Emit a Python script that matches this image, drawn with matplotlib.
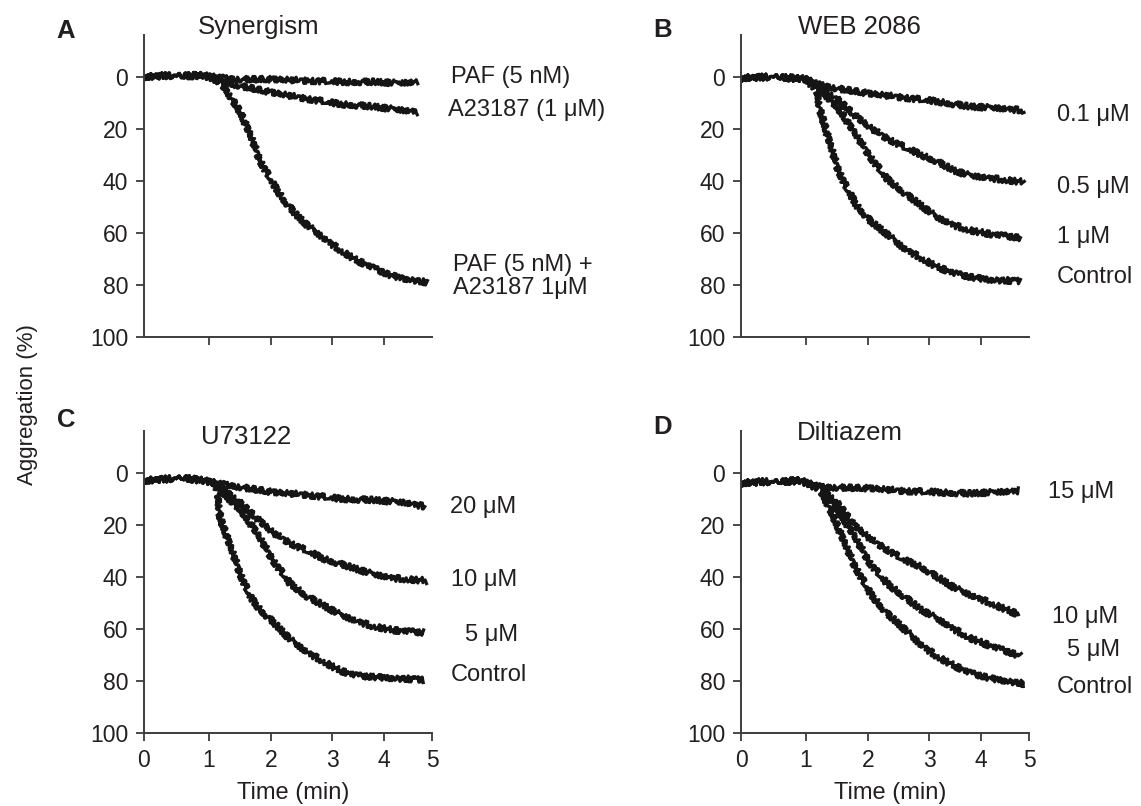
import numpy as np
import matplotlib
matplotlib.use("Agg")
import matplotlib.pyplot as plt

plt.rcParams["font.family"] = ["Liberation Sans", "DejaVu Sans"]

W, H = 1141, 806
INK = "#231f20"
AX = "#3c3c3c"

# scanned time axis: tick positions are not evenly spaced (pixels from origin)
TICK_T = [0, 1, 2, 3, 4, 5]
TICK_PX = [0, 65, 127, 188, 240, 288]

# ---- panel A: synergism ----
a_paf_t = [0, 0.3, 0.6, 0.9, 1.2, 1.5, 2.0, 2.6, 3.2, 3.8, 4.3, 4.7]
a_paf_v = [0, -0.5, 0, -0.5, 0.5, 1, 1, 1.5, 2, 2, 2.5, 2]
a_a23_t = [0, 0.5, 0.9, 1.2, 1.5, 2.0, 2.6, 3.15, 3.8, 4.2, 4.7]
a_a23_v = [0, -0.5, -0.5, 2, 3.5, 6, 8.5, 10.5, 11.5, 12.5, 13.5]
a_syn_t = [0, 0.5, 0.9, 1.1, 1.23, 1.33, 1.5, 1.66, 1.82, 2.03, 2.2, 2.41, 2.59,
           2.86, 3.15, 3.47, 3.79, 4.08, 4.4, 4.9]
a_syn_v = [0, -0.5, -0.5, 1, 3.5, 7, 13.5, 22, 32, 41, 47, 53, 57,
           62, 66.5, 70.5, 73.5, 76, 77.5, 79]

# ---- panel B: WEB 2086 ----
b_01_t = [0, 0.5, 1.0, 1.2, 1.5, 2.03, 2.59, 3.15, 3.79, 4.3, 4.9]
b_01_v = [0.5, 0, 1, 3, 4.5, 6.5, 8, 9.5, 11.5, 12, 13]
b_05_t = [0, 0.5, 1.0, 1.25, 1.5, 1.77, 2.03, 2.3, 2.59, 2.87, 3.15, 3.47, 3.79, 4.2, 4.9]
b_05_v = [0.5, 0, 1, 4.5, 8.5, 14.5, 19.5, 23.5, 27, 30, 32.5, 36, 38, 39, 40.5]
b_1_t = [0, 0.5, 1.0, 1.25, 1.5, 1.77, 2.03, 2.3, 2.59, 2.87, 3.15, 3.47, 3.79, 4.2, 4.82]
b_1_v = [0.5, 0, 1, 5.5, 11.5, 21, 30.5, 39, 44.5, 49.5, 54, 57, 59, 60.5, 62]
b_c_t = [0, 0.5, 1.0, 1.18, 1.23, 1.34, 1.5, 1.66, 1.82, 2.04, 2.31, 2.59,
         2.86, 3.15, 3.47, 3.79, 4.2, 4.82]
b_c_v = [0.5, 0, 1, 5.5, 13, 22, 34.5, 43, 49.5, 55.5, 60.5, 66,
         69.5, 73, 75.5, 77, 78, 78.5]

# ---- panel C: U73122 ----
c_20_t = [0, 0.3, 0.6, 0.9, 1.1, 1.5, 2.03, 2.59, 3.15, 3.79, 4.44, 4.85]
c_20_v = [3, 2.5, 2, 3, 4, 5.5, 7.5, 8.5, 10, 10.5, 11.5, 13]
c_10_t = [0, 0.3, 0.6, 0.9, 1.1, 1.25, 1.5, 1.77, 2.03, 2.31, 2.59, 2.86,
          3.15, 3.47, 3.79, 4.19, 4.89]
c_10_v = [3, 2.5, 2, 3, 4, 6.5, 11.5, 17.5, 23, 27, 30, 33,
          35, 37, 39, 40.5, 41.5]
c_5_t = [0, 0.3, 0.6, 0.9, 1.1, 1.23, 1.5, 1.77, 2.03, 2.31, 2.59, 2.86,
         3.15, 3.47, 3.79, 4.19, 4.82]
c_5_v = [3, 2.5, 2, 3, 4, 8, 14, 23, 33.5, 42.5, 47.5, 51,
         54.5, 57, 59, 60.5, 61.5]
c_c_t = [0, 0.3, 0.6, 0.9, 1.1, 1.15, 1.18, 1.34, 1.5, 1.66, 1.82, 2.04,
         2.31, 2.59, 2.86, 3.15, 3.47, 3.79, 4.82]
c_c_v = [3, 2.5, 2, 3, 4, 9, 17.5, 28, 38.5, 47.5, 52.5, 57.5,
         64, 69, 72.5, 76, 78, 78.5, 79.5]

# ---- panel D: Diltiazem ----
d_15_t = [0, 0.3, 0.6, 0.9, 1.23, 2.04, 2.59, 3.15, 3.79, 4.3, 4.78]
d_15_v = [4, 3.5, 3.5, 3, 5.5, 6, 7, 7.5, 8, 7.5, 7]
d_10_t = [0, 0.3, 0.6, 0.9, 1.1, 1.28, 1.5, 1.77, 2.04, 2.31, 2.59, 2.86,
          3.15, 3.47, 3.79, 4.19, 4.78]
d_10_v = [4, 3.5, 3.5, 3, 5, 6.5, 11.5, 20, 25.5, 29.5, 33.5, 36,
          40, 44, 47, 50, 54.5]
d_5_t = [0, 0.3, 0.6, 0.9, 1.1, 1.28, 1.5, 1.77, 2.04, 2.31, 2.59, 2.86,
         3.15, 3.47, 3.79, 4.19, 4.82]
d_5_v = [4, 3.5, 3.5, 3, 5, 6.5, 14, 24, 35, 42.5, 47.5, 52.5,
         56, 60, 63.5, 66.5, 70.5]
d_c_t = [0, 0.3, 0.6, 0.9, 1.1, 1.23, 1.39, 1.55, 1.77, 2.04, 2.31, 2.59,
         2.86, 3.15, 3.47, 3.79, 4.19, 4.89]
d_c_v = [4, 3.5, 3.5, 3, 5, 6.5, 14, 23, 35, 46.5, 54, 60,
         66, 70.5, 74, 77, 79, 81]

# panel: (letter, title, curves, labels [(text, x_px, y_px)])
panels = [
    ("A", "Synergism", [(a_paf_t, a_paf_v), (a_a23_t, a_a23_v), (a_syn_t, a_syn_v)],
     [("PAF (5 nM)", 451, 77), ("A23187 (1 μM)", 448, 110),
      ("PAF (5 nM) +", 453, 265), ("A23187 1μM", 453, 288)]),
    ("B", "WEB 2086", [(b_01_t, b_01_v), (b_05_t, b_05_v), (b_1_t, b_1_v), (b_c_t, b_c_v)],
     [("0.1 μM", 1057, 115), ("0.5 μM", 1057, 187), ("1 μM", 1057, 237),
      ("Control", 1057, 277)]),
    ("C", "U73122", [(c_20_t, c_20_v), (c_10_t, c_10_v), (c_5_t, c_5_v), (c_c_t, c_c_v)],
     [("20 μM", 450, 507), ("10 μM", 451, 580), ("5 μM", 465, 635),
      ("Control", 451, 675)]),
    ("D", "Diltiazem", [(d_15_t, d_15_v), (d_10_t, d_10_v), (d_5_t, d_5_v), (d_c_t, d_c_v)],
     [("15 μM", 1048, 492), ("10 μM", 1052, 617), ("5 μM", 1067, 650),
      ("Control", 1057, 687)]),
]
# axes boxes in pixels: left, top, right, bottom ; title/letter anchors
boxes = [(144, 35, 432, 337), (741, 35, 1029, 337),
         (144, 431, 432, 733), (741, 431, 1029, 733)]
titles_px = [(259, 27), (859, 27), (246, 437), (850, 433)]
letters_px = [(66, 31), (663, 30), (66, 420), (663, 427)]


def fwd(t):
    return np.interp(t, TICK_T, TICK_PX)


def inv(p):
    return np.interp(p, TICK_PX, TICK_T)


fig = plt.figure(figsize=(W / 100, H / 100), dpi=100)
fig.patch.set_facecolor("white")

for i, (letter, title, curves, labels) in enumerate(panels):
    l, t, r, b = boxes[i]
    ax = fig.add_axes([l / W, 1 - b / H, (r - l) / W, (b - t) / H])
    ax.set_xscale("function", functions=(fwd, inv))
    for tt, vv in curves:
        ln, = ax.plot(tt, vv, color="#151515", lw=2.3, solid_joinstyle="round")
        ln.set_sketch_params(3.0, 2.0, 2.0)
    ax.set_xlim(0, 5)
    ax.set_ylim(100, -16)
    ax.set_yticks([0, 20, 40, 60, 80, 100])
    for s in ("top", "right"):
        ax.spines[s].set_visible(False)
    for s in ("left", "bottom"):
        ax.spines[s].set_linewidth(1.4)
        ax.spines[s].set_color(AX)
    ax.tick_params(direction="out", length=6, width=1.3, color=AX,
                   labelsize=16.5, labelcolor=INK, pad=5.5)
    if i < 2:
        ax.set_xticks([1, 2, 3, 4])
        ax.set_xticklabels([])
    else:
        ax.set_xticks([0, 1, 2, 3, 4, 5])
        ax.set_xticklabels(["0", "1", "2", "3", "4", "5"])
        fig.text((l + r) / 2 / W + 5 / W, 1 - 793 / H, "Time (min)",
                 ha="center", va="center", fontsize=17, color=INK)
    tx, ty = titles_px[i]
    fig.text(tx / W, 1 - ty / H, title, ha="center", va="center",
             fontsize=18.5, color=INK)
    lx, ly = letters_px[i]
    fig.text(lx / W, 1 - ly / H, letter, ha="center", va="center",
             fontsize=18.5, fontweight="bold", color=INK)
    for txt, x, y in labels:
        fig.text(x / W, 1 - y / H, txt, ha="left", va="center",
                 fontsize=17, color=INK)

fig.text(28 / W, 1 - 405 / H, "Aggregation (%)", rotation=90,
         ha="center", va="center", fontsize=16, color=INK)

fig.savefig("out.png", dpi=100, facecolor="white")
